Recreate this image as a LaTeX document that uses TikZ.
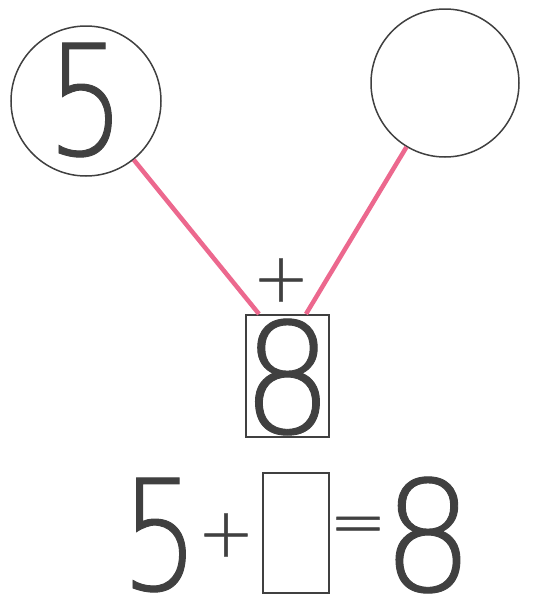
\documentclass[tikz,border=0pt]{standalone}
\usepackage{fontspec}
\newfontfamily\digitfont[FakeStretch=0.8,FakeBold=0.6]{DejaVu Sans ExtraLight}
\newfontfamily\eightfont[FakeStretch=0.93,FakeBold=0.6]{DejaVu Sans ExtraLight}
\newfontfamily\signfont[FakeBold=0.8]{DejaVu Sans ExtraLight}
\definecolor{ink}{RGB}{64,64,64}
\definecolor{pinkline}{RGB}{236,104,142}
\begin{document}
\begin{tikzpicture}[x=1pt,y=-1pt,
  ring/.style={draw=ink, line width=1.5pt, circle, minimum size=150pt, inner sep=0},
  digit/.style={text=ink, inner sep=0, font=\digitfont\fontsize{154}{154}\selectfont},
  eight/.style={text=ink, inner sep=0, font=\eightfont\fontsize{154}{154}\selectfont},
  sign/.style={text=ink, inner sep=0, font=\signfont\fontsize{68}{68}\selectfont},
  answer/.style={draw=ink, line width=2pt, inner sep=0},
  link/.style={draw=pinkline, line width=4.5pt}]
\useasboundingbox (0,0) rectangle (537,603);
% top circles
\node[ring, minimum size=150pt] (c1) at (86,101) {};
\node[digit] (n5) at (86,100) {5};
\node[ring, minimum size=148pt] (c2) at (445,83) {};
% sum box
\node[answer, minimum width=83pt, minimum height=122pt] (box) at (287.5,376) {};
\node[eight] (n8) at (287.5,377) {8};
\node[sign] (plus1) at (281,280) {+};
% connectors
\coordinate (bl) at ([xshift=14pt]box.north west);
\coordinate (br) at ([xshift=-24pt]box.north east);
\draw[link] (c1) -- (bl);
\draw[link] (c2) -- (br);
% equation
\node[digit] (e5) at (160,535) {5};
\node[sign] (eplus) at (226,535) {+};
\node[answer, minimum width=66pt, minimum height=120pt] (ebox) at (296,533) {};
\node[sign] (eq) at (358,531) {=};
\node[eight] (e8) at (428,535) {8};
\end{tikzpicture}
\end{document}
